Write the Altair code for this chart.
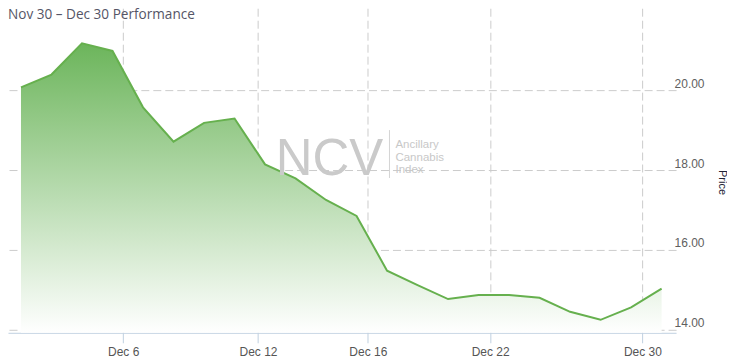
import json
import altair as alt
import pandas as pd

# Trading days (ordinal x axis, weekends/holidays skipped)
dates = ["2020-11-30", "2020-12-01", "2020-12-02", "2020-12-03", "2020-12-04",
         "2020-12-07", "2020-12-08", "2020-12-09", "2020-12-10", "2020-12-11",
         "2020-12-14", "2020-12-15", "2020-12-16", "2020-12-17", "2020-12-18",
         "2020-12-21", "2020-12-22", "2020-12-23", "2020-12-24",
         "2020-12-28", "2020-12-29", "2020-12-30"]
prices = [20.07, 20.39, 21.17, 20.98, 19.57, 18.71, 19.18, 19.29, 18.14, 17.79,
          17.25, 16.85, 15.48, 15.12, 14.77, 14.87, 14.87, 14.80, 14.45, 14.25,
          14.56, 15.03]

# x-axis ticks (positions on the trading-day index) and their labels
tick_positions = [3.35, 7.77, 11.37, 15.38, 20.37]
tick_labels = ["Dec 6", "Dec 12", "Dec 16", "Dec 22", "Dec 30"]
y_ticks = [14, 16, 18, 20]
y_min, y_max = 13.925, 22.05

title_text = "Nov 30 \u2013 Dec 30 Performance"
wm_big = "NCV"
wm_small = "Ancillary\nCannabis\nIndex"

df = pd.DataFrame({"idx": list(range(len(prices))), "date": dates, "price": prices})
one = pd.DataFrame({"a": [0]})

label_expr = "{}[indexof({}, datum.value)]".format(json.dumps(tick_labels), json.dumps(tick_positions))

GRID = "#cccccc"
x_scale = alt.Scale(domain=[-0.4256, 21.474], nice=False, zero=False)
y_scale = alt.Scale(domain=[y_min, y_max], nice=False, zero=False)

x_axis = alt.Axis(values=tick_positions, labelExpr=label_expr, title=None,
                  grid=True, gridDash=[8, 4], gridColor=GRID,
                  domainColor="#c0d0e0", tickColor="#c0d0e0", tickSize=10,
                  labelFontSize=12, labelColor="#555555", labelFont="Liberation Sans",
                  labelPadding=4, labelFlush=False, labelOverlap=False)
y_axis = alt.Axis(orient="right", values=y_ticks, format=".2f",
                  grid=True, gridDash=[8, 4], gridColor=GRID,
                  domain=False, ticks=False, labelPadding=-2,
                  labelBaseline="alphabetic", labelOffset=-3, labelAlign="left",
                  labelFontSize=12, labelColor="#606060", labelFont="Liberation Sans",
                  title="Price", titleAngle=90, titleX=45, titleY=174,
                  titleAlign="center", titleBaseline="middle",
                  titleFontWeight="normal", titleFontSize=11, titleColor="#222233",
                  titleFont="Liberation Sans")

gradient = alt.Gradient(gradient="linear",
                        stops=[alt.GradientStop(color="#6cb55b", offset=0),
                               alt.GradientStop(color="#ffffff", offset=1)],
                        x1=1, x2=1, y1=0, y2=1)

base = alt.Chart(df)
area = base.mark_area(color=gradient, opacity=1).encode(
    x=alt.X("idx:Q", scale=x_scale, axis=x_axis),
    y=alt.Y("price:Q", scale=y_scale, axis=y_axis),
    y2=alt.datum(y_min),
)
line = base.mark_line(color="#66b04e", strokeWidth=2).encode(
    x=alt.X("idx:Q", scale=x_scale),
    y=alt.Y("price:Q", scale=y_scale),
)

title = alt.Chart(one).mark_text(align="left", baseline="top", fontSize=13.6,
                                 font="Open Sans", color="#555566").encode(
    x=alt.value(0), y=alt.value(0), text=alt.value(title_text))
wm1 = alt.Chart(one).mark_text(align="left", baseline="alphabetic", fontSize=51,
                               font="Liberation Sans", color="#cacaca").encode(
    x=alt.value(268), y=alt.value(167), text=alt.value(wm_big))
wm2 = alt.Chart(one).mark_text(align="left", baseline="alphabetic", fontSize=11.5,
                               font="Liberation Sans", color="#c8c8c8",
                               lineBreak="\n", lineHeight=12.5).encode(
    x=alt.value(388), y=alt.value(140), text=alt.value(wm_small))
sep = alt.Chart(one).mark_rule(color="#d4d4d4", strokeWidth=1).encode(
    x=alt.value(382), y=alt.value(122), y2=alt.value(170))

chart = alt.layer(area, line, wm1, wm2, sep, title).properties(
    width=669, height=325,
).configure(padding=0, background="white").configure_view(stroke=None)

chart.save("out.html", embed_options={"renderer": "svg", "actions": False})
